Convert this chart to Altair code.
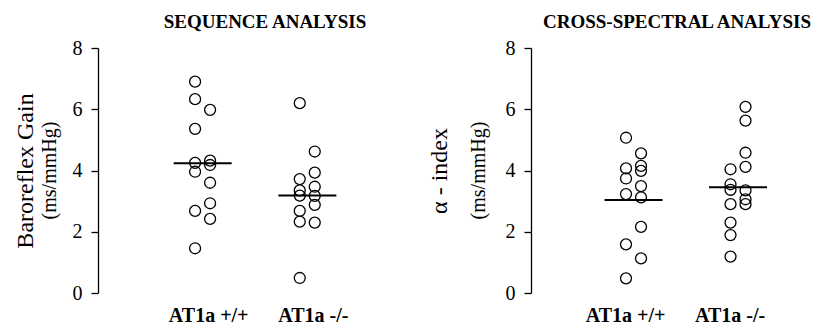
import altair as alt
import pandas as pd

groups = ["AT1a +/+", "AT1a -/-"]
sub_cols = ["a", "b"]

# Sequence analysis (Baroreflex gain, ms/mmHg)
seq_wt_a = [6.90, 6.33, 5.36, 4.25, 3.96, 2.68, 1.46]
seq_wt_b = [5.98, 4.32, 4.18, 3.60, 2.93, 2.42]
seq_ko_a = [6.20, 3.72, 3.35, 3.18, 2.68, 2.33, 0.49]
seq_ko_b = [4.62, 3.93, 3.47, 3.17, 2.88, 2.30]
seq_lines = [4.24, 3.18]

# Cross-spectral analysis (alpha index, ms/mmHg)
csa_wt_a = [5.07, 4.07, 3.74, 3.23, 1.59, 0.48]
csa_wt_b = [4.56, 4.15, 3.99, 3.49, 3.12, 2.16, 1.13]
csa_ko_a = [4.04, 3.55, 3.37, 2.90, 2.30, 1.89, 1.19]
csa_ko_b = [6.08, 5.63, 4.58, 4.12, 3.35, 3.06, 2.90]
csa_lines = [3.04, 3.45]

FONT = "Liberation Serif"
H = 245


def make_df(wt_a, wt_b, ko_a, ko_b):
    rows = []
    for g, a, b in [(groups[0], wt_a, wt_b), (groups[1], ko_a, ko_b)]:
        rows += [{"group": g, "col": "a", "value": v} for v in a]
        rows += [{"group": g, "col": "b", "value": v} for v in b]
    return pd.DataFrame(rows)


def panel(df, lines, title, ytitle, title_x, units_x, title_dx, label_offset,
          width, po, align):
    xscale = alt.Scale(domain=groups, paddingInner=0, paddingOuter=po, align=align)
    yscale = alt.Scale(domain=[0, 8], nice=False, zero=True)
    xenc = alt.X(
        "group:N", scale=xscale, sort=groups,
        axis=alt.Axis(title=None, labelAngle=0, domain=False, ticks=False,
                      labelFont=FONT, labelFontSize=20, labelFontWeight="bold",
                      labelColor="black", labelPadding=12, labelOffset=label_offset),
    )
    yenc = alt.Y(
        "value:Q", scale=yscale,
        axis=alt.Axis(values=[0, 2, 4, 6, 8], grid=False, format="d",
                      domainColor="black", domainWidth=1.3,
                      tickColor="black", tickWidth=1.3, tickSize=7,
                      labelFont=FONT, labelFontSize=20, labelColor="black",
                      labelPadding=9,
                      title=ytitle, titleFont=FONT, titleFontSize=24,
                      titleFontWeight="normal", titleColor="black",
                      titleAngle=270, titleX=title_x, titleY=H / 2,
                      titleBaseline="alphabetic", titleAlign="center"),
    )
    pts = alt.Chart(df).mark_point(
        shape="circle", filled=False, color="black", size=120,
        strokeWidth=1.3, opacity=1,
    ).encode(
        x=xenc,
        xOffset=alt.XOffset("col:N", sort=sub_cols,
                            scale=alt.Scale(domain=sub_cols, paddingInner=0,
                                            paddingOuter=0,
                                            range=[44.75, 59.75])),
        y=yenc,
    )
    line_df = pd.DataFrame({"group": groups, "value": lines})
    ticks = alt.Chart(line_df).mark_tick(
        color="black", size=58, thickness=2, opacity=1,
    ).encode(x=alt.X("group:N", scale=xscale, sort=groups),
             y=alt.Y("value:Q", scale=yscale))
    units = alt.Chart(pd.DataFrame({"t": ["(ms/mmHg)"]})).mark_text(
        angle=270, font=FONT, fontSize=20, baseline="alphabetic",
        align="center", color="black",
    ).encode(text="t:N", x=alt.value(units_x), y=alt.value(H / 2))
    return alt.layer(pts, ticks, units).properties(
        width=width, height=H,
        title=alt.TitleParams(title, font=FONT, fontSize=19, fontWeight="bold",
                              color="black", anchor="middle", frame="group",
                              dx=title_dx, offset=6),
    )


left = panel(make_df(seq_wt_a, seq_wt_b, seq_ko_a, seq_ko_b), seq_lines,
             "SEQUENCE ANALYSIS", "Baroreflex Gain", -66, -42, 10, 6,
             314, 0.5, 0.5)
right = panel(make_df(csa_wt_a, csa_wt_b, csa_ko_a, csa_ko_b), csa_lines,
              "CROSS-SPECTRAL ANALYSIS", "\u03b1 - index", -85, -46, 6, -8,
              280, 0.3397, 0.708)

chart = alt.hconcat(left, right, spacing=15).properties(
    padding={"left": 5, "top": 5, "right": 0, "bottom": 0}
).configure_view(stroke=None)

chart.save("out.html", embed_options={"renderer": "svg", "actions": False})
